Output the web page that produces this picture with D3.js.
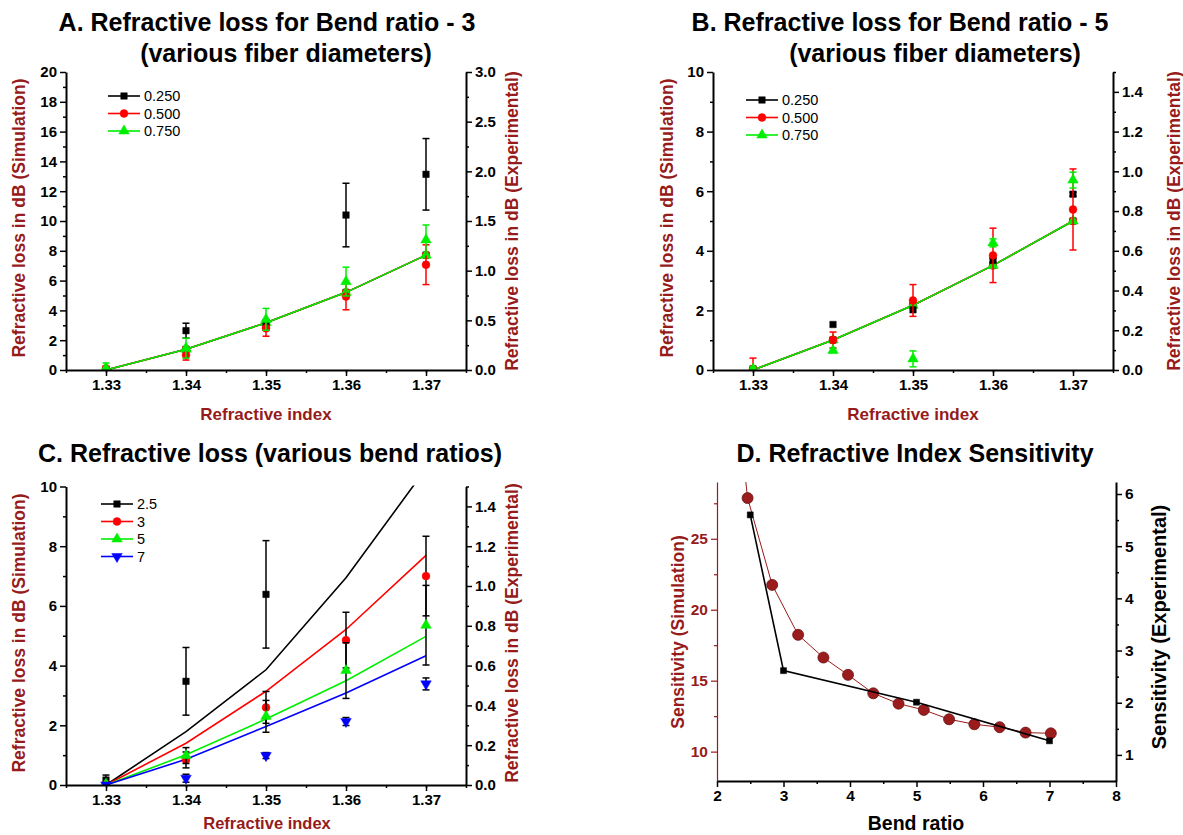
<!DOCTYPE html>
<html>
<head>
<meta charset="utf-8">
<script src="https://cdn.jsdelivr.net/npm/d3@7"></script>
<style>
  body { margin: 0; background: #fff; }
  text { font-family: 'Liberation Sans', Arial, sans-serif; }
</style>
</head>
<body>
<svg id="chart"></svg>
<script>
// ---------- data ----------
const refIndex = [1.33, 1.34, 1.35, 1.36, 1.37];

// Panel A : bend ratio 3, fiber diameters (simulation on left axis, experiment on right axis)
const aSim250 = [0, 1.39, 3.17, 5.21, 7.71];
const aSim500 = [0, 1.39, 3.17, 5.21, 7.71];
const aSim750 = [0, 1.39, 3.17, 5.21, 7.71];
const aExp250 = [0, 0.396, 0.45, 1.56, 1.97];
const aErr250 = [0, 0.075, 0.05, 0.32, 0.36];
const aExp500 = [0.017, 0.15, 0.42, 0.74, 1.06];
const aErr500 = [0.02, 0.05, 0.08, 0.134, 0.2];
const aExp750 = [0.02, 0.22, 0.51, 0.89, 1.31];
const aErr750 = [0.05, 0.1, 0.11, 0.145, 0.15];

// Panel B : bend ratio 5
const bSim250 = [0, 1.01, 2.17, 3.51, 5.0];
const bSim500 = [0, 1.01, 2.17, 3.51, 5.0];
const bSim750 = [0, 1.01, 2.17, 3.51, 5.0];
const bExp250 = [0.005, 0.229, 0.303, 0.552, 0.885];
const bErr250 = [0, 0, 0, 0.01, 0.01];
const bExp500 = [0.005, 0.151, 0.35, 0.577, 0.808];
const bErr500 = [0.055, 0.04, 0.08, 0.137, 0.204];
const bExp750 = [0.005, 0.098, 0.056, 0.64, 0.956];
const bErr750 = [0.01, 0.01, 0.04, 0.02, 0.04];

// Panel C : various bend ratios
const cSim25 = [0, 1.79, 3.86, 6.94, 10.6];
const cSim3 = [0, 1.40, 3.14, 5.21, 7.69];
const cSim5 = [0, 1.01, 2.21, 3.49, 4.98];
const cSim7 = [0, 0.86, 1.96, 3.08, 4.33];
const cExp25 = [0.025, 0.521, 0.958, null, null];
const cErr25 = [0.025, 0.17, 0.27, null, null];
const cExp3 = [0.005, 0.126, 0.39, 0.728, 1.05];
const cErr3 = [0.01, 0.04, 0.08, 0.14, 0.2];
const cExp5 = [0.005, 0.148, 0.345, 0.575, 0.803];
const cErr5 = [0.01, 0.04, 0.08, 0.14, 0.2];
const cExp7 = [0, 0.034, 0.148, 0.319, 0.508];
const cErr7 = [0, 0.02, 0.015, 0.02, 0.03];

// Panel D : sensitivity vs bend ratio
const dSimX = [2.08, 2.46, 2.83, 3.22, 3.60, 3.97, 4.35, 4.73, 5.11, 5.49, 5.87, 6.25, 6.64, 7.02];
const dSimY = [44.2, 27.87, 21.75, 18.23, 16.63, 15.41, 14.11, 13.38, 12.94, 12.28, 11.93, 11.72, 11.34, 11.29];
const dExpX = [2.5, 3, 5, 7];
const dExpY = [5.60, 2.615, 2.01, 1.27];

// ---------- setup ----------
const MAROON = '#961b1b';
const width = 1183;
const height = 835;
const svg = d3.select('#chart').attr('width', width).attr('height', height);

// Draws one axis with minor + major ticks
function drawAxis(axisFn, scale, transform, majors, minors, fmt, opts = {}) {
    const color = opts.color || '#000';
    const g = svg.append('g').attr('transform', transform);
    g.append('g')
        .call(axisFn(scale).tickValues(minors).tickSize(3).tickSizeOuter(0).tickFormat(''))
        .call(s => s.select('.domain').remove());
    const gm = g.append('g')
        .call(axisFn(scale).tickValues(majors).tickSize(6).tickSizeOuter(0).tickPadding(3).tickFormat(fmt));
    g.selectAll('.tick line').attr('stroke', color).attr('stroke-width', opts.tickW || 1.5);
    gm.select('.domain').attr('stroke', color).attr('stroke-width', opts.lineW || 2);
    gm.selectAll('text')
        .attr('fill', color)
        .attr('font-weight', 'bold')
        .attr('font-size', (opts.fontSize || 15) + 'px')
        .attr('font-family', "'Liberation Sans', Arial, sans-serif");
}

function label(text, x, y, opts = {}) {
    svg.append('text')
        .attr('transform', `translate(${x},${y})` + (opts.rotate ? ` rotate(${opts.rotate})` : ''))
        .attr('text-anchor', 'middle')
        .attr('font-weight', opts.weight || 'bold')
        .attr('font-size', opts.size + 'px')
        .attr('fill', opts.color || '#000')
        .text(text);
}

let clipId = 0;
function clip(x0, x1, y0, y1) {
    const id = 'clip' + (clipId++);
    svg.append('clipPath').attr('id', id)
        .append('rect').attr('x', x0).attr('y', y0).attr('width', x1 - x0).attr('height', y1 - y0);
    return `url(#${id})`;
}

function marker(g, sym, x, y, color, size, rotate) {
    g.append('path')
        .attr('d', d3.symbol().type(sym).size(size)())
        .attr('transform', `translate(${x},${y})` + (rotate ? ` rotate(${rotate})` : ''))
        .attr('fill', color)
        .attr('stroke', color)
        .attr('stroke-width', 0.5);
}

// Panels A, B, C share the same layout
function refractivePanel(p) {
    const x = d3.scaleLinear().domain([1.325, 1.375]).range([p.x0, p.x1]);
    const yL = d3.scaleLinear().domain([0, p.leftMax]).range([p.y1, p.y0]);
    const yR = d3.scaleLinear().domain([0, p.rightMax]).range([p.y1, p.y0]);

    const plot = svg.append('g').attr('clip-path', clip(p.x0, p.x1, p.y0 - 1, p.y1 + 1));

    // simulation lines
    p.series.forEach(s => {
        const pts = refIndex.map((r, i) => [r, s.sim[i]]);
        plot.append('path')
            .datum(pts)
            .attr('fill', 'none')
            .attr('stroke', s.color)
            .attr('stroke-width', 1.6)
            .attr('d', d3.line().x(d => x(d[0])).y(d => yL(d[1])));
        if (p.lineMarkers) {
            pts.forEach(d => marker(plot, s.sym, x(d[0]), yL(d[1]), s.color, s.size, s.rot));
        }
    });

    // experimental points with error bars
    p.series.forEach(s => {
        const barColor = p.barColor || s.color;
        refIndex.forEach((r, i) => {
            const v = s.exp[i];
            if (v == null) return;
            const e = s.err[i];
            const cx = x(r);
            if (e > 0) {
                const top = yR(v + e), bot = yR(v - e);
                plot.append('line').attr('x1', cx).attr('x2', cx).attr('y1', top).attr('y2', bot)
                    .attr('stroke', barColor).attr('stroke-width', 1.5);
                [top, bot].forEach(yy => plot.append('line')
                    .attr('x1', cx - 3.5).attr('x2', cx + 3.5).attr('y1', yy).attr('y2', yy)
                    .attr('stroke', barColor).attr('stroke-width', 1.5));
            }
            marker(plot, s.sym, cx, yR(v), s.color, s.size, s.rot);
        });
    });

    // axes
    drawAxis(d3.axisBottom, x, `translate(0,${p.y1})`,
        refIndex, d3.range(1.325, 1.3751, 0.005), d3.format('.2f'));
    drawAxis(d3.axisLeft, yL, `translate(${p.x0},0)`,
        p.leftMajor, p.leftMinor, d3.format('d'));
    drawAxis(d3.axisRight, yR, `translate(${p.x1},0)`,
        p.rightMajor, p.rightMinor, d3.format('.1f'));

    // legend
    p.series.forEach((s, i) => {
        const ly = p.legendY + i * 17.5;
        svg.append('line').attr('x1', p.legendX).attr('x2', p.legendX + 32)
            .attr('y1', ly).attr('y2', ly).attr('stroke', s.color).attr('stroke-width', 1.6);
        marker(svg, s.sym, p.legendX + 16, ly, s.color, s.size, s.rot);
        svg.append('text').attr('x', p.legendX + 36).attr('y', ly).attr('dy', '0.36em')
            .attr('font-size', '14.5px').attr('fill', '#000').text(s.name);
    });
}

const SQ = d3.symbolSquare, CI = d3.symbolCircle, TR = d3.symbolTriangle;

// ---------- Panel A ----------
refractivePanel({
    x0: 66, x1: 466, y0: 72, y1: 370,
    leftMax: 20, rightMax: 3,
    leftMajor: d3.range(0, 21, 2), leftMinor: d3.range(1, 20, 2),
    rightMajor: d3.range(0, 3.01, 0.5), rightMinor: d3.range(0.25, 3, 0.5),
    legendX: 108, legendY: 96, lineMarkers: true,
    series: [
        { name: '0.250', color: '#000', sym: SQ, size: 42, sim: aSim250, exp: aExp250, err: aErr250 },
        { name: '0.500', color: '#ff0000', sym: CI, size: 48, sim: aSim500, exp: aExp500, err: aErr500 },
        { name: '0.750', color: '#00ee00', sym: TR, size: 48, sim: aSim750, exp: aExp750, err: aErr750 }
    ]
});

// ---------- Panel B ----------
refractivePanel({
    x0: 713, x1: 1113, y0: 72, y1: 370,
    leftMax: 10, rightMax: 1.5,
    leftMajor: d3.range(0, 11, 2), leftMinor: d3.range(1, 10, 2),
    rightMajor: d3.range(0, 1.41, 0.2), rightMinor: d3.range(0.1, 1.51, 0.2),
    legendX: 746, legendY: 100, lineMarkers: true,
    series: [
        { name: '0.250', color: '#000', sym: SQ, size: 42, sim: bSim250, exp: bExp250, err: bErr250 },
        { name: '0.500', color: '#ff0000', sym: CI, size: 48, sim: bSim500, exp: bExp500, err: bErr500 },
        { name: '0.750', color: '#00ee00', sym: TR, size: 48, sim: bSim750, exp: bExp750, err: bErr750 }
    ]
});

// ---------- Panel C ----------
refractivePanel({
    x0: 66, x1: 466, y0: 486.5, y1: 785,
    leftMax: 10, rightMax: 1.5,
    leftMajor: d3.range(0, 11, 2), leftMinor: d3.range(1, 10, 2),
    rightMajor: d3.range(0, 1.41, 0.2), rightMinor: d3.range(0.1, 1.51, 0.2),
    legendX: 101, legendY: 504, lineMarkers: false, barColor: '#000',
    series: [
        { name: '2.5', color: '#000', sym: SQ, size: 42, sim: cSim25, exp: cExp25, err: cErr25 },
        { name: '3', color: '#ff0000', sym: CI, size: 48, sim: cSim3, exp: cExp3, err: cErr3 },
        { name: '5', color: '#00ee00', sym: TR, size: 48, sim: cSim5, exp: cExp5, err: cErr5 },
        { name: '7', color: '#0000ff', sym: TR, size: 48, rot: 180, sim: cSim7, exp: cExp7, err: cErr7 }
    ]
});

// ---------- Panel D ----------
const dx = d3.scaleLinear().domain([2, 8]).range([717, 1116]);
const dyL = d3.scaleLinear().domain([7.93, 29.0]).range([781, 482]);
const dyR = d3.scaleLinear().domain([0.5, 6.23]).range([781, 482]);
const dPlot = svg.append('g').attr('clip-path', clip(717, 1116, 482, 781));

dPlot.append('path')
    .datum(dSimX.map((v, i) => [v, dSimY[i]]))
    .attr('fill', 'none').attr('stroke', MAROON).attr('stroke-width', 1)
    .attr('d', d3.line().x(d => dx(d[0])).y(d => dyL(d[1])));
dSimX.forEach((v, i) => {
    dPlot.append('circle').attr('cx', dx(v)).attr('cy', dyL(dSimY[i])).attr('r', 5.5)
        .attr('fill', '#9b1c1c').attr('stroke', '#6a1010').attr('stroke-width', 0.8);
});

dPlot.append('path')
    .datum(dExpX.map((v, i) => [v, dExpY[i]]))
    .attr('fill', 'none').attr('stroke', '#000').attr('stroke-width', 1.6)
    .attr('d', d3.line().x(d => dx(d[0])).y(d => dyR(d[1])));
dExpX.forEach((v, i) => marker(dPlot, SQ, dx(v), dyR(dExpY[i]), '#000', 36));

drawAxis(d3.axisBottom, dx, 'translate(0,781)', d3.range(2, 9, 1), d3.range(2.5, 8, 1), d3.format('d'), { fontSize: 15.5 });
drawAxis(d3.axisLeft, dyL, 'translate(717,0)', [10, 15, 20, 25], [12.5, 17.5, 22.5, 27.5], d3.format('d'),
    { color: MAROON, lineW: 1.2, tickW: 1.2, fontSize: 15.5 });
drawAxis(d3.axisRight, dyR, 'translate(1116,0)', d3.range(1, 7, 1), d3.range(1.5, 6.1, 1), d3.format('d'), { fontSize: 15.5 });

// ---------- titles & axis labels ----------
label('A. Refractive loss for Bend ratio - 3', 267, 31, { size: 25 });
label('(various fiber diameters)', 286, 62, { size: 25 });
label('B. Refractive loss for Bend ratio - 5', 900, 31, { size: 25 });
label('(various fiber diameters)', 935, 62, { size: 25 });
label('C. Refractive loss (various bend ratios)', 270, 462, { size: 25 });
label('D. Refractive Index Sensitivity', 915, 462, { size: 25 });

const ySim = 'Refractive loss in dB (Simulation)';
const yExp = 'Refractive loss in dB (Experimental)';
label(ySim, 25, 218, { size: 17.5, color: MAROON, rotate: -90 });
label(yExp, 518, 221, { size: 17.5, color: MAROON, rotate: -90 });
label('Refractive index', 266, 420, { size: 17, color: MAROON });

label(ySim, 673, 218, { size: 17.5, color: MAROON, rotate: -90 });
label(yExp, 1180, 221, { size: 17.5, color: MAROON, rotate: -90 });
label('Refractive index', 913, 420, { size: 17, color: MAROON });

label(ySim, 25, 633, { size: 17.5, color: MAROON, rotate: -90 });
label(yExp, 518, 633, { size: 17.5, color: MAROON, rotate: -90 });
label('Refractive index', 267, 829, { size: 16.5, color: MAROON });

label('Sensitivity (Simulation)', 684, 632, { size: 17.5, color: MAROON, rotate: -90 });
label('Sensitivity (Experimental)', 1166, 627, { size: 20, rotate: -90 });
label('Bend ratio', 916, 830, { size: 19.5 });
</script>
</body>
</html>
